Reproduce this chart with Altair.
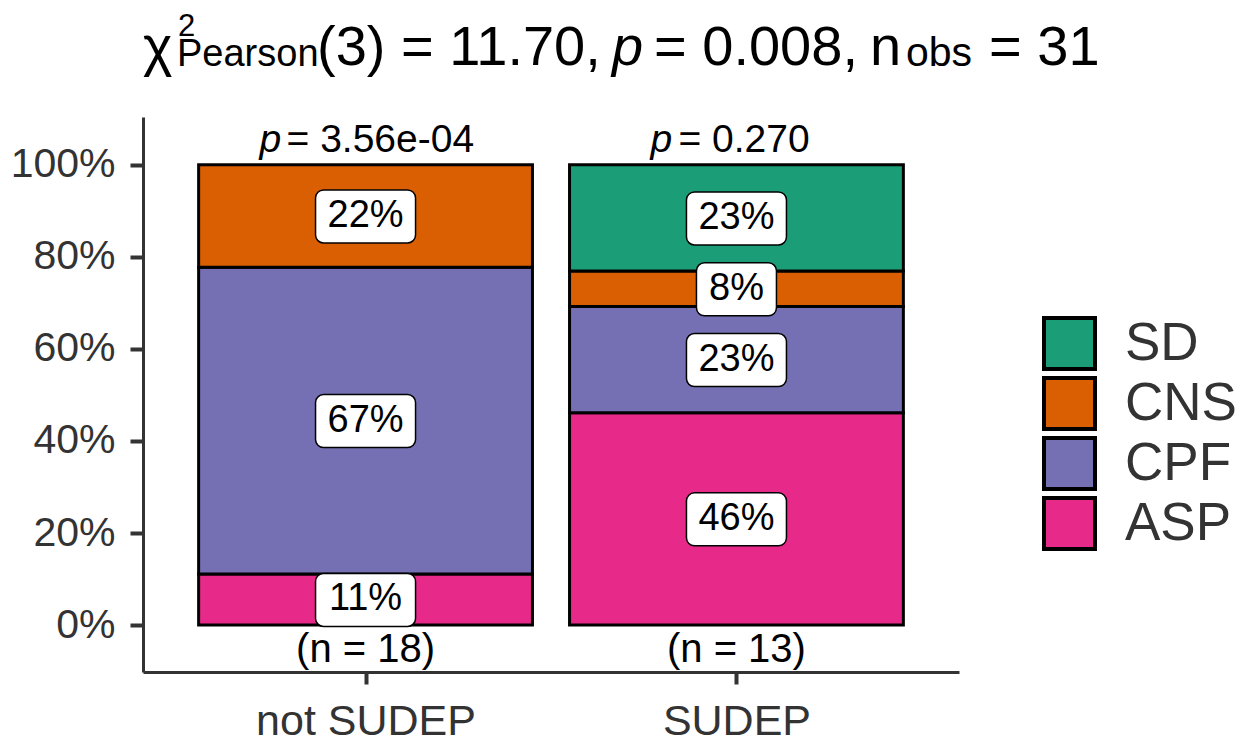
import altair as alt
import pandas as pd

FONT = "Liberation Sans"

# ---- data ----
groups = ["not SUDEP", "SUDEP"]
group_pos = [1, 2]
group_n = [18, 13]
group_p = ["3.56e-04", "0.270"]
categories = ["ASP", "CPF", "CNS", "SD"]          # bottom to top
counts_not_sudep = [2, 12, 4, 0]
counts_sudep = [6, 3, 1, 3]
legend_order = ["SD", "CNS", "CPF", "ASP"]
legend_colors = ["#1B9E77", "#D95F02", "#7570B3", "#E7298A"]
title_texts = ["\u03c7", "2", "Pearson", "(3) = 11.70,", "p", "= 0.008,", "n", "obs", "= 31"]

# ---- layout/style (not data) ----
title_layout = [  # x, y (px rel. to plot origin), size, style
    (0, -52, 56, "normal"),
    (35, -81, 31, "normal"),
    (34, -51, 38, "normal"),
    (174, -52, 56, "normal"),
    (469, -52, 56, "italic"),
    (511, -52, 56, "normal"),
    (727, -52, 56, "normal"),
    (763, -51, 41, "normal"),
    (846, -52, 56, "normal"),
]
p_dx = [-106, -86]
eq_dx = [-79, -58]

rows = []
for g, pos, n, counts in zip(groups, group_pos, group_n, [counts_not_sudep, counts_sudep]):
    for i, (c, k) in enumerate(zip(categories, counts)):
        if k > 0:
            rows.append(dict(group=g, xpos=pos, cat=c, order=i, count=k,
                             frac=k / n, label=f"{round(100 * k / n)}%"))
df = pd.DataFrame(rows)
gdf = pd.DataFrame(dict(group=groups, xpos=group_pos, n=group_n, p=group_p))

xscale = alt.Scale(domain=[0.4, 2.6], nice=False, zero=False)
yscale = alt.Scale(domain=[-0.102, 1.104], nice=False, zero=False)
label_js = "[" + ",".join(f"'{g}'" for g in groups) + "]"
x_axis = alt.Axis(values=group_pos, labelExpr=f"{label_js}[datum.value-1]", title=None,
                  grid=False, tickSize=12, tickWidth=4, domainWidth=3, labelPadding=16,
                  labelFontSize=43, labelLimit=0)
y_axis = alt.Axis(values=[0, 0.2, 0.4, 0.6, 0.8, 1.0], format=".0%", title=None,
                  grid=False, tickSize=13, tickWidth=4, domainWidth=3, labelPadding=15,
                  labelFontSize=41, labelLimit=0)

base = alt.Chart(df).transform_stack(
    stack="frac", groupby=["group"], sort=[alt.SortField("order", "ascending")], as_=["y0", "y1"]
).transform_calculate(
    mid="(datum.y0 + datum.y1) / 2", xl="datum.xpos - 0.45", xr="datum.xpos + 0.45"
)

bars = base.mark_rect(stroke="black", strokeWidth=3).encode(
    x=alt.X("xl:Q", scale=xscale, axis=x_axis), x2="xr:Q",
    y=alt.Y("y0:Q", scale=yscale, axis=y_axis), y2="y1:Q",
    color=alt.Color("cat:N", scale=alt.Scale(domain=legend_order, range=legend_colors),
                    legend=alt.Legend(orient="none", legendX=899, legendY=199, title=None,
                                      symbolType="square", symbolSize=2601,
                                      symbolStrokeColor="black", symbolStrokeWidth=4,
                                      labelFontSize=53, labelFont=FONT, labelColor="#333333",
                                      labelOffset=28, rowPadding=5, clipHeight=55, padding=0)),
)

def box_layer(nchar, half):
    return base.transform_filter(f"length(datum.label) == {nchar}").mark_rect(
        fill="white", stroke="black", strokeWidth=1.5, cornerRadius=8,
        xOffset=-half, x2Offset=half, yOffset=-26, y2Offset=27,
    ).encode(
        x=alt.X("xpos:Q", scale=xscale, axis=x_axis), x2="xpos:Q",
        y=alt.Y("mid:Q", scale=yscale, axis=y_axis), y2="mid:Q",
    )

boxes = [box_layer(3, 50), box_layer(2, 40)]

pct = base.mark_text(fontSize=38, font=FONT, color="black", baseline="middle").encode(
    x=alt.X("xpos:Q", scale=xscale, axis=x_axis),
    y=alt.Y("mid:Q", scale=yscale, axis=y_axis),
    text="label:N",
)

nlab = alt.Chart(gdf).transform_calculate(
    nt="'(n = ' + datum.n + ')'", yb="0"
).mark_text(fontSize=40, font=FONT, color="black", baseline="alphabetic", dy=37).encode(
    x=alt.X("xpos:Q", scale=xscale, axis=x_axis),
    y=alt.Y("yb:Q", scale=yscale, axis=y_axis),
    text="nt:N",
)

plabs = []
for i, g in enumerate(groups):
    gb = alt.Chart(gdf).transform_filter(f"datum.group == '{g}'").transform_calculate(
        yt="1", pt="'= ' + datum.p", pp="'p'"
    )
    plabs.append(gb.mark_text(fontSize=39, font=FONT, fontStyle="italic", color="black",
                              align="left", baseline="alphabetic", dx=p_dx[i], dy=-13).encode(
        x=alt.X("xpos:Q", scale=xscale, axis=x_axis),
        y=alt.Y("yt:Q", scale=yscale, axis=y_axis), text="pp:N"))
    plabs.append(gb.mark_text(fontSize=39, font=FONT, color="black",
                              align="left", baseline="alphabetic", dx=eq_dx[i], dy=-13).encode(
        x=alt.X("xpos:Q", scale=xscale, axis=x_axis),
        y=alt.Y("yt:Q", scale=yscale, axis=y_axis), text="pt:N"))

titles = []
for t, (tx, ty, ts, st) in zip(title_texts, title_layout):
    titles.append(alt.Chart(pd.DataFrame({"t": [t]})).mark_text(
        fontSize=ts, font=FONT, fontStyle=st, color="black", align="left", baseline="alphabetic"
    ).encode(x=alt.value(tx), y=alt.value(ty), text="t:N"))

chart = alt.layer(bars, *boxes, pct, nlab, *plabs, *titles).properties(
    width=816, height=555, autosize="none",
    padding={"left": 135, "top": 109, "right": 280, "bottom": 70},
).configure_view(stroke=None).configure_axis(
    labelFont=FONT, labelColor="#333333", domainColor="#333333", tickColor="#333333"
)

chart.save("out.html", embed_options={"renderer": "svg", "actions": False})
